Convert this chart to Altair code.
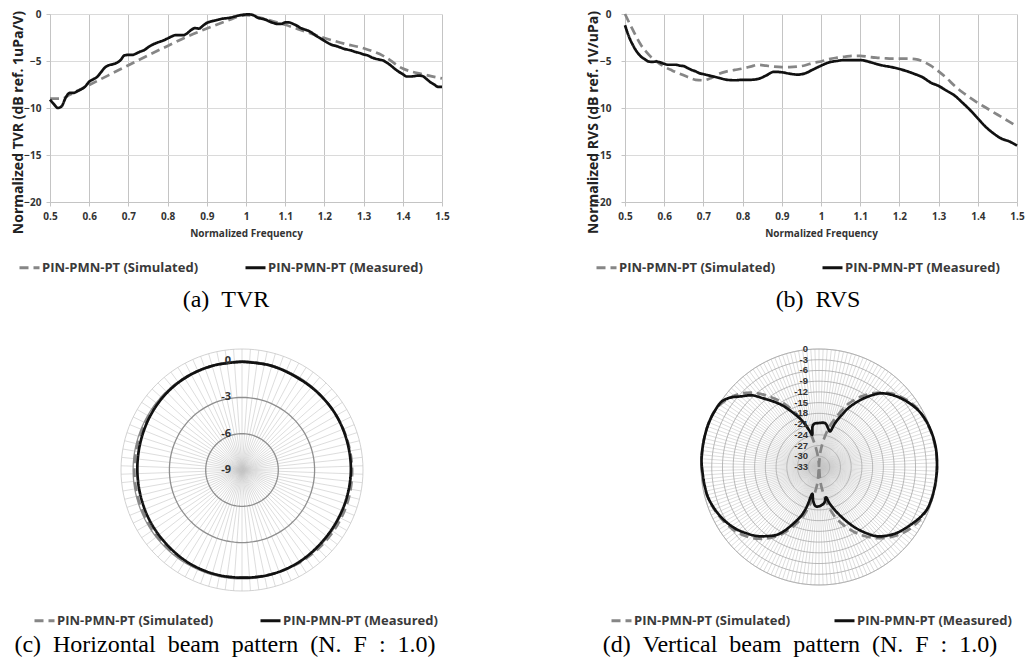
import altair as alt
import pandas as pd

SIM = "PIN-PMN-PT (Simulated)"
MEAS = "PIN-PMN-PT (Measured)"
FONT = "Open Sans"
SERIF = "Liberation Serif"
SP2 = " \u00a0"  # a wide (double) word gap that SVG keeps

# ---------------- data ----------------
freq_ticks = [0.5, 0.6, 0.7, 0.8, 0.9, 1.0, 1.1, 1.2, 1.3, 1.4, 1.5]
db_ticks = [-20, -15, -10, -5, 0]

# (a) TVR
tvr_meas_f = [round(0.50 + 0.01 * i, 2) for i in range(101)]
tvr_meas_db = [-9.1, -9.6, -10.0, -9.8, -8.9, -8.4, -8.4, -8.2, -8.0, -7.7, -7.2,
               -6.95, -6.7, -6.2, -5.7, -5.45, -5.35, -5.2, -4.9, -4.4, -4.35,
               -4.35, -4.2, -4.0, -3.85, -3.55, -3.3, -3.1, -2.95, -2.8, -2.6,
               -2.4, -2.25, -2.25, -2.25, -2.05, -1.7, -1.5, -1.55, -1.25, -0.95,
               -0.8, -0.7, -0.6, -0.5, -0.45, -0.38, -0.28, -0.17, -0.1, -0.05,
               -0.05, -0.15, -0.4, -0.5, -0.6, -0.8, -0.95, -1.05, -1.05, -0.9,
               -0.9, -1.05, -1.25, -1.5, -1.65, -1.8, -2.05, -2.35, -2.6, -2.85,
               -3.1, -3.3, -3.4, -3.55, -3.7, -3.8, -3.9, -4.05, -4.15, -4.3,
               -4.4, -4.6, -4.75, -4.85, -4.95, -5.2, -5.5, -5.85, -6.15, -6.4,
               -6.65, -6.65, -6.6, -6.55, -6.6, -6.9, -7.25, -7.5, -7.75, -7.75]
tvr_sim_f = [0.50, 0.53, 0.55, 0.60, 0.65, 0.70, 0.75, 0.80, 0.85, 0.90, 0.95,
             1.00, 1.05, 1.10, 1.15, 1.20, 1.25, 1.30, 1.35, 1.40, 1.45, 1.50]
tvr_sim_db = [-9.0, -9.0, -8.6, -7.55, -6.5, -5.45, -4.4, -3.4, -2.4, -1.55, -0.75,
              -0.12, -0.55, -1.15, -1.85, -2.55, -3.15, -3.65, -4.45, -5.8, -6.4, -6.85]

# (b) RVS
rvs_meas_f = [0.50, 0.51, 0.52, 0.53, 0.54, 0.55, 0.56, 0.57, 0.58, 0.59, 0.60,
              0.61, 0.62, 0.63, 0.64, 0.65, 0.66, 0.67, 0.68, 0.69, 0.70,
              0.72, 0.74, 0.76, 0.78, 0.80, 0.82, 0.84, 0.86, 0.88, 0.90,
              0.92, 0.94, 0.96, 0.98, 1.00, 1.02, 1.04, 1.06, 1.08, 1.10,
              1.12, 1.14, 1.16, 1.18, 1.20, 1.22, 1.24, 1.26, 1.28, 1.30,
              1.32, 1.34, 1.36, 1.38, 1.40, 1.42, 1.44, 1.46, 1.48, 1.50]
rvs_meas_db = [-1.2, -2.4, -3.3, -4.0, -4.5, -4.8, -5.05, -5.1, -5.05, -5.15, -5.3,
               -5.4, -5.4, -5.4, -5.5, -5.55, -5.75, -5.95, -6.1, -6.3, -6.4,
               -6.6, -6.8, -7.0, -7.05, -7.0, -7.0, -6.9, -6.55, -6.15, -6.2,
               -6.35, -6.45, -6.3, -5.9, -5.5, -5.15, -5.0, -4.9, -4.9, -4.9,
               -5.05, -5.3, -5.5, -5.65, -5.85, -6.1, -6.4, -6.75, -7.3, -7.65,
               -8.15, -8.65, -9.4, -10.2, -11.1, -12.0, -12.7, -13.25, -13.55, -14.0]
rvs_sim_f = [0.50, 0.52, 0.54, 0.56, 0.58, 0.60, 0.62, 0.64, 0.66, 0.68, 0.70,
             0.72, 0.74, 0.76, 0.78, 0.80, 0.82, 0.84, 0.86, 0.88, 0.90,
             0.92, 0.94, 0.96, 0.98, 1.00, 1.02, 1.04, 1.06, 1.08, 1.10,
             1.12, 1.14, 1.16, 1.18, 1.20, 1.22, 1.24, 1.26, 1.28, 1.30,
             1.32, 1.34, 1.36, 1.38, 1.40, 1.42, 1.44, 1.46, 1.48, 1.50]
rvs_sim_db = [0.0, -1.7, -3.25, -4.3, -5.05, -5.6, -6.0, -6.35, -6.7, -7.0, -7.05,
              -6.8, -6.35, -6.1, -5.95, -5.8, -5.6, -5.4, -5.5, -5.6, -5.65,
              -5.65, -5.6, -5.45, -5.2, -5.05, -4.8, -4.65, -4.55, -4.45, -4.45,
              -4.55, -4.65, -4.7, -4.75, -4.75, -4.75, -4.8, -5.05, -5.5, -6.1,
              -6.8, -7.6, -8.3, -8.9, -9.45, -9.95, -10.45, -10.95, -11.45, -11.95]

# (c) horizontal beam pattern (angle clockwise from top, dB)
hbp_ang = [0, 15, 30, 45, 60, 75, 90, 105, 120, 135, 150, 165, 180,
           195, 210, 225, 240, 255, 270, 285, 300, 315, 330, 345, 360]
hbp_meas_db = [-0.05, -0.05, -0.1, -0.05, 0.0, 0.0, 0.0, -0.05, -0.1, -0.1, -0.05, -0.05, -0.1,
               -0.1, -0.15, -0.25, -0.3, -0.35, -0.35, -0.3, -0.2, -0.1, -0.05, -0.05, -0.05]
hbp_sim_db = [-0.05, -0.05, -0.1, -0.05, 0.0, 0.05, 0.1, 0.12, 0.1, 0.05, 0.0, -0.05, -0.1,
              -0.1, -0.1, -0.1, -0.1, -0.1, -0.1, -0.1, -0.1, -0.05, -0.05, -0.05, -0.05]
hbp_levels = [-9, -6, -3, 0]
hbp_labels = ["-9", "-6", "-3", "0"]

# (d) vertical beam pattern
vbp_meas_ang = [0, 8, 13, 17, 20, 23, 27, 32, 36, 40, 45, 50, 56, 62, 68, 75, 82, 90,
                96, 101, 106, 111, 116, 120, 125, 130, 135, 140, 144, 148, 152, 156, 160,
                164, 167, 172, 180, 185, 190, 194, 197, 200, 204, 208, 212, 217, 222,
                228, 233, 240, 246, 251, 255, 261, 267, 273, 279, 285, 292, 298, 304,
                308, 312, 317, 321, 325, 329, 333, 337, 341, 345, 348, 351, 354, 360]
vbp_meas_db = [-20.7, -20.6, -21.8, -22.6, -20.0, -17.6, -14.2, -10.8, -8.3, -6.1, -4.4,
               -3.1, -1.8, -0.8, -0.3, 0.0, 0.1, 0.0,
               -0.1, -0.2, -0.3, -0.5, -1.3, -2.2, -3.3, -4.4, -5.9, -7.7, -10.0, -12.5,
               -15.2, -17.9, -20.3,
               -22.5, -24.3, -22.8, -22.0, -22.0, -23.5, -25.3, -21.5, -18.5, -15.9, -13.0,
               -10.6, -8.8, -7.0,
               -5.4, -4.1, -2.7, -1.8, -1.2, -0.8, -0.6, -0.4, -0.1, 0.0, 0.1, 0.2, 0.1,
               -0.2, -1.5, -3.5, -5.6, -8.3, -10.6, -12.8, -15.3, -17.6, -19.8, -22.3,
               -23.8, -21.5, -20.8, -20.7]
vbp_sim_ang = [0, 5, 10, 15, 20, 25, 30, 35, 40, 45, 50, 55, 60, 70, 80, 90, 100, 110,
               120, 130, 140, 150, 160, 165, 170, 175, 180, 185, 190, 195, 200, 210, 220,
               230, 240, 250, 260, 270, 280, 290, 300, 310, 318, 325, 330, 335, 340, 345,
               350, 355, 360]
vbp_sim_db = [-33.0, -29.0, -25.0, -21.0, -17.5, -13.5, -10.5, -8.0, -5.8, -4.0, -2.7,
              -1.6, -0.9, -0.3, 0.0, 0.0, -0.1, -0.4,
              -1.5, -3.6, -7.0, -11.5, -17.0, -20.5, -25.0, -29.0, -33.0, -29.0, -25.0,
              -21.0, -17.0, -11.0, -6.8,
              -4.0, -2.4, -1.2, -0.5, -0.2, 0.0, 0.2, 0.0, -2.0, -5.0, -9.0, -12.0, -15.5,
              -19.0, -22.6, -27.0, -30.5, -33.0]
vbp_levels = [-33, -30, -27, -24, -21, -18, -15, -12, -9, -6, -3, 0]
vbp_labels = ["-33", "-30", "-27", "-24", "-21", "-18", "-15", "-12", "-9", "-6", "-3", "0"]

# ---------------- styling helpers ----------------
color_scale = alt.Scale(domain=[SIM, MEAS], range=["#868686", "#111111"])
dash_scale = alt.Scale(domain=[SIM, MEAS], range=[[9, 5], [1, 0]])


def make_legend(lx, ly, colpad):
    return alt.Legend(title=None, orient="none", legendX=lx, legendY=ly,
                      direction="horizontal", columns=2, symbolType="stroke",
                      symbolSize=400, symbolStrokeWidth=3, labelFont=FONT,
                      labelFontSize=13, labelFontWeight="bold", labelColor="#3a3a3a",
                      labelOffset=1, labelLimit=400, columnPadding=colpad,
                      padding=0, rowPadding=0)


def caption_layer(text, x, y):
    return alt.Chart(pd.DataFrame({"t": [text]})).mark_text(
        font=SERIF, fontSize=24, color="#000000", align="center", baseline="middle"
    ).encode(text="t:N", x=alt.value(x), y=alt.value(y))


def freq_panel(sim_f, sim_db, meas_f, meas_db, ytitle, label_pad, leg, caption, cap_x):
    xs = alt.Scale(domain=[0.5, 1.5], nice=False, zero=False)
    ys = alt.Scale(domain=[-20, 0], nice=False, zero=False)
    xaxis = alt.Axis(values=freq_ticks, format=".1~f", labelFont=FONT, labelFontSize=10,
                     labelFontWeight="bold", labelColor="#333333", labelPadding=5,
                     labelFlush=False, tickSize=4, tickColor="#c4c4c4",
                     domainColor="#c4c4c4", gridColor="#c4c4c4", gridWidth=1,
                     title="Normalized Frequency", titleFont=FONT, titleFontSize=10,
                     titleFontWeight="bold", titleColor="#333333", titlePadding=7)
    yaxis = alt.Axis(values=db_ticks, labelFont=FONT, labelFontSize=10,
                     labelFontWeight="bold", labelColor="#333333",
                     labelPadding=label_pad, tickSize=4, tickColor="#c4c4c4",
                     domainColor="#c4c4c4", gridColor="#dadada", gridWidth=1,
                     title=ytitle, titleFont=FONT, titleFontSize=14,
                     titleFontWeight="bold", titleColor="#222222", titleAngle=270,
                     titleX=-32, titleY=108, titleAlign="center", titleBaseline="middle")

    def layer(f, v, s):
        df = pd.DataFrame({"f": f, "db": v, "s": s})
        return alt.Chart(df).mark_line(strokeWidth=2.7, interpolate="monotone").encode(
            x=alt.X("f:Q", scale=xs, axis=xaxis),
            y=alt.Y("db:Q", scale=ys, axis=yaxis),
            color=alt.Color("s:N", scale=color_scale, legend=leg),
            strokeDash=alt.StrokeDash("s:N", scale=dash_scale, legend=leg),
        )

    return alt.layer(
        layer(sim_f, sim_db, SIM),
        layer(meas_f, meas_db, MEAS),
        caption_layer(caption, cap_x, 286),
    ).properties(width=392, height=188)


def polar_panel(sim_ang, sim_db, meas_ang, meas_db, dbmin, dbmax, levels, labels,
                major_color, major_width, spoke_step, cx, cy, R, leg, caption,
                lab_font, lab_size):
    span = dbmax - dbmin
    xs = alt.Scale(domain=[-span, span], range=[cx - R, cx + R], nice=False, zero=False)
    ys = alt.Scale(domain=[-span, span], range=[cy + R, cy - R], nice=False, zero=False)
    X = lambda f: alt.X(f, scale=xs, axis=None)
    Y = lambda f: alt.Y(f, scale=ys, axis=None)
    rad = "datum.ang * PI / 180"

    spokes = alt.Chart(pd.DataFrame({"ang": list(range(0, 360, spoke_step))})).transform_calculate(
        z="0", px=f"{span} * sin({rad})", py=f"{span} * cos({rad})"
    ).mark_rule(color="#c6c6c6", strokeWidth=0.6).encode(
        x=X("z:Q"), y=Y("z:Q"), x2="px:Q", y2="py:Q")

    ring_levels = sorted(set(levels + [dbmax]))
    ring_df = pd.DataFrame([(lv, a) for lv in ring_levels for a in range(0, 361, 3)],
                           columns=["lvl", "ang"])
    calc = dict(rr=f"datum.lvl - ({dbmin})",
                px=f"datum.rr * sin({rad})", py=f"datum.rr * cos({rad})")
    outer = alt.Chart(ring_df).transform_filter(f"datum.lvl == {dbmax}").transform_calculate(
        **calc).mark_line(color="#c6c6c6", strokeWidth=0.8).encode(
        x=X("px:Q"), y=Y("py:Q"), detail="lvl:N", order="ang:Q")
    major = alt.Chart(ring_df).transform_filter(
        f"datum.lvl != {dbmax} || {1 if dbmax in levels else 0}").transform_calculate(
        **calc).mark_line(color=major_color, strokeWidth=major_width).encode(
        x=X("px:Q"), y=Y("py:Q"), detail="lvl:N", order="ang:Q")

    def curve(a, v, s):
        df = pd.DataFrame({"ang": a, "db": v, "s": s})
        return alt.Chart(df).transform_calculate(
            rr=f"max(datum.db - ({dbmin}), 0)",
            px=f"datum.rr * sin({rad})", py=f"datum.rr * cos({rad})"
        ).mark_line(strokeWidth=2.7, interpolate="catmull-rom").encode(
            x=X("px:Q"), y=Y("py:Q"), order="ang:Q",
            color=alt.Color("s:N", scale=color_scale, legend=leg),
            strokeDash=alt.StrokeDash("s:N", scale=dash_scale, legend=leg))

    lab = alt.Chart(pd.DataFrame({"lvl": levels, "t": labels})).transform_calculate(
        z="0", rr=f"datum.lvl - ({dbmin})"
    ).mark_text(align="right", baseline="middle", dx=-11, font=lab_font, fontSize=lab_size,
                fontWeight="bold", color="#333333").encode(
        x=X("z:Q"), y=Y("rr:Q"), text="t:N")

    return alt.layer(
        spokes, outer, major,
        curve(sim_ang, sim_db, SIM), curve(meas_ang, meas_db, MEAS),
        lab, caption_layer(caption, 175, 315),
    ).properties(width=392, height=330)


a = freq_panel(tvr_sim_f, tvr_sim_db, tvr_meas_f, tvr_meas_db,
               "Normalized TVR (dB ref. 1uPa/V)", 5, make_legend(-32, 242, 40),
               "(a)" + SP2 + "TVR", 176)
b = freq_panel(rvs_sim_f, rvs_sim_db, rvs_meas_f, rvs_meas_db,
               "Normalized RVS (dB ref. 1V/uPa)", 10, make_legend(-30, 242, 40),
               "(b)" + SP2 + "RVS", 193)
c = polar_panel(hbp_ang, hbp_sim_db, hbp_ang, hbp_meas_db, -9, 1, hbp_levels, hbp_labels,
                "#8f8f8f", 1.3, 4, 192, 140, 121, make_legend(-17, 279, 40),
                SP2.join(["(c)", "Horizontal", "beam", "pattern", "(N.", "F", ":", "1.0)"]),
                FONT, 11)
d = polar_panel(vbp_sim_ang, vbp_sim_db, vbp_meas_ang, vbp_meas_db, -33, 0, vbp_levels, vbp_labels,
                "#a8a8a8", 0.8, 2, 194, 137, 118, make_legend(-15, 279, 37),
                SP2.join(["(d)", "Vertical", "beam", "pattern", "(N.", "F", ":", "1.0)"]),
                "Liberation Sans", 9.5)

chart = alt.concat(
    a, b, c, d, columns=2, spacing={"row": 128, "column": 183}, bounds="flush"
).resolve_scale(
    color="independent", strokeDash="independent"
).resolve_legend(
    color="independent", strokeDash="independent"
).properties(
    padding={"left": 2, "top": 0, "right": 0, "bottom": 0},
    background="white",
).configure_view(stroke=None, strokeWidth=0)

chart.save("out.html", embed_options={"renderer": "svg", "actions": False})
